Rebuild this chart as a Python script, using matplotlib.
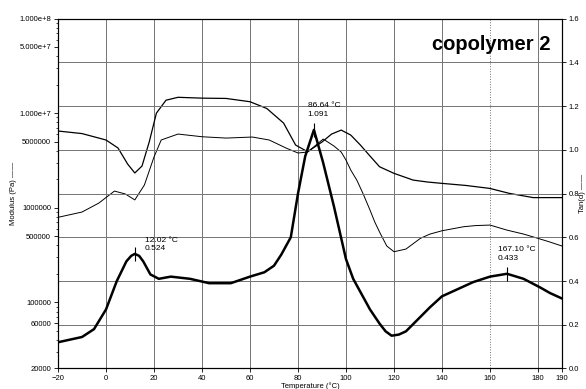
import matplotlib
matplotlib.use('Agg')
import matplotlib.pyplot as plt
from matplotlib.ticker import FixedLocator, FixedFormatter, LogLocator, NullFormatter

plt.rcParams['font.family'] = ['Liberation Sans', 'DejaVu Sans']

# storage modulus (upper thin curve)
temp_a = [-20, -10, 0, 5, 9, 12, 15, 18, 21, 25, 30, 40, 50, 60, 67, 74, 79, 84, 90, 94, 98,
          102, 106, 110, 114, 120, 128, 134, 140, 150, 160, 168, 178, 190]
mod_a = [6.47e6, 6.08e6, 5.20e6, 4.28e6, 2.90e6, 2.33e6, 2.76e6, 4.95e6, 1.00e7, 1.37e7,
         1.47e7, 1.44e7, 1.43e7, 1.32e7, 1.12e7, 7.85e6, 4.60e6, 3.91e6, 4.95e6, 6.01e6,
         6.62e6, 5.86e6, 4.60e6, 3.52e6, 2.71e6, 2.31e6, 1.96e6, 1.87e6, 1.81e6, 1.72e6,
         1.60e6, 1.42e6, 1.28e6, 1.28e6]

# loss modulus (lower thin curve)
temp_b = [-20, -10, -3, 3.5, 8, 12, 16, 20, 23, 30, 40, 50, 61, 68, 75, 80, 84, 87, 90.5,
          95, 98, 100, 102, 104.5, 107, 110, 112, 114, 117, 120, 125, 131, 135, 140, 149,
          154, 160, 167, 174, 180, 185, 190]
mod_b = [7.92e5, 9.01e5, 1.12e6, 1.50e6, 1.40e6, 1.21e6, 1.74e6, 3.44e6, 5.20e6, 6.01e6,
         5.63e6, 5.45e6, 5.59e6, 5.20e6, 4.28e6, 3.79e6, 3.88e6, 4.49e6, 5.32e6,
         4.49e6, 3.88e6, 3.19e6, 2.50e6, 1.96e6, 1.43e6, 9.46e5, 7.06e5, 5.53e5, 3.94e5,
         3.43e5, 3.66e5, 4.75e5, 5.27e5, 5.71e5, 6.30e5, 6.48e5, 6.56e5, 5.81e5, 5.27e5,
         4.75e5, 4.34e5, 3.94e5]

# tan delta (thick curve, right axis)
temp_c = [-20, -10, -5, 0, 4.5, 8.5, 10.5, 12.02, 13.8, 15.5, 18.5, 22, 27, 35, 43, 52, 60,
          66, 70, 73, 77, 80, 83, 86.64, 90.5, 95, 100, 103, 107, 110, 114, 116.5, 119,
          122, 125, 130, 135, 140, 146, 153, 160, 167.1, 174, 181, 185, 190]
tan_c = [0.12, 0.144, 0.18, 0.27, 0.40, 0.49, 0.515, 0.524, 0.515, 0.49, 0.43, 0.41, 0.42,
         0.41, 0.39, 0.39, 0.42, 0.44, 0.47, 0.52, 0.60, 0.80, 0.97, 1.091, 0.94, 0.74,
         0.50, 0.41, 0.33, 0.27, 0.205, 0.17, 0.15, 0.155, 0.17, 0.225, 0.28, 0.33, 0.36,
         0.395, 0.42, 0.433, 0.41, 0.37, 0.345, 0.32]

peaks_t = [12.02, 86.64, 167.10]
peaks_v = [0.524, 1.091, 0.433]
peak_offsets = [(7, 1), (-4.5, 8.5), (-6.5, 8.5)]

left_ticks = [2e4, 6e4, 1e5, 5e5, 1e6, 5e6, 1e7, 5e7, 1e8]
left_labels = ['20000', '60000', '100000', '500000', '1000000', '5000000',
               '1.000e+7', '5.000e+7', '1.000e+8']
x_ticks = [-20, 0, 20, 40, 60, 80, 100, 120, 140, 160, 180, 190]

fig = plt.figure(figsize=(5.86, 3.89), dpi=100)
ax = fig.add_axes([0.099, 0.0527, 0.86, 0.8997])
ax2 = ax.twinx()

ax.set_yscale('log')
ax.set_ylim(2e4, 1e8)
ax.set_xlim(-20, 190)
ax2.set_ylim(0, 1.6)

# grid
for t in range(0, 181, 20):
    ax.axvline(t, color='0.45', lw=0.7, ls=':' if t == 160 else '-', zorder=0)
for v in [0.2, 0.4, 0.6, 0.8, 1.0, 1.2, 1.4]:
    ax2.axhline(v, color='0.45', lw=0.7, zorder=0)

ax.plot(temp_a, mod_a, color='black', lw=0.9)
ax.plot(temp_b, mod_b, color='black', lw=0.7)
ax2.plot(temp_c, tan_c, color='black', lw=1.8)

for t, v, off in zip(peaks_t, peaks_v, peak_offsets):
    ax2.plot([t], [v], marker='|', color='black', ms=9.5, mew=0.8)
    ax2.annotate('%.2f \u00b0C\n%.3f' % (t, v), (t, v), xytext=off, textcoords='offset points',
                 ha='left', va='bottom', fontsize=6, linespacing=1.35)

ax.text(0.978, 0.925, 'copolymer 2', transform=ax.transAxes, ha='right', va='center',
        fontsize=14.5, fontweight='bold')

ax.yaxis.set_major_locator(FixedLocator(left_ticks))
ax.yaxis.set_major_formatter(FixedFormatter(left_labels))
ax.yaxis.set_minor_locator(LogLocator(base=10, subs=range(2, 10)))
ax.yaxis.set_minor_formatter(NullFormatter())
ax.set_xticks(x_ticks)
ax2.set_yticks([0.0, 0.2, 0.4, 0.6, 0.8, 1.0, 1.2, 1.4, 1.6])
ax2.set_yticklabels(['0.0', '0.2', '0.4', '0.6', '0.8', '1.0', '1.2', '1.4', '1.6'])

ax.tick_params(axis='both', which='major', labelsize=5.5, length=3, width=0.6, pad=2)
ax.tick_params(axis='y', which='minor', length=1.5, width=0.5)
ax2.tick_params(axis='y', labelsize=5.5, length=3, width=0.6, pad=2)

ax.set_ylabel('Modulus (Pa) \u2014\u2014', fontsize=5.5, labelpad=2)
ax.set_xlabel('Temperature (\u00b0C)', fontsize=5.5, labelpad=0)
ax2.set_ylabel('Tan(d) \u2014\u2014', fontsize=5.5, rotation=90, va='center')
ax2.yaxis.set_label_coords(1.041, 0.5)

for a in (ax, ax2):
    for s in a.spines.values():
        s.set_linewidth(0.8)

fig.savefig('out.png', dpi=100)
